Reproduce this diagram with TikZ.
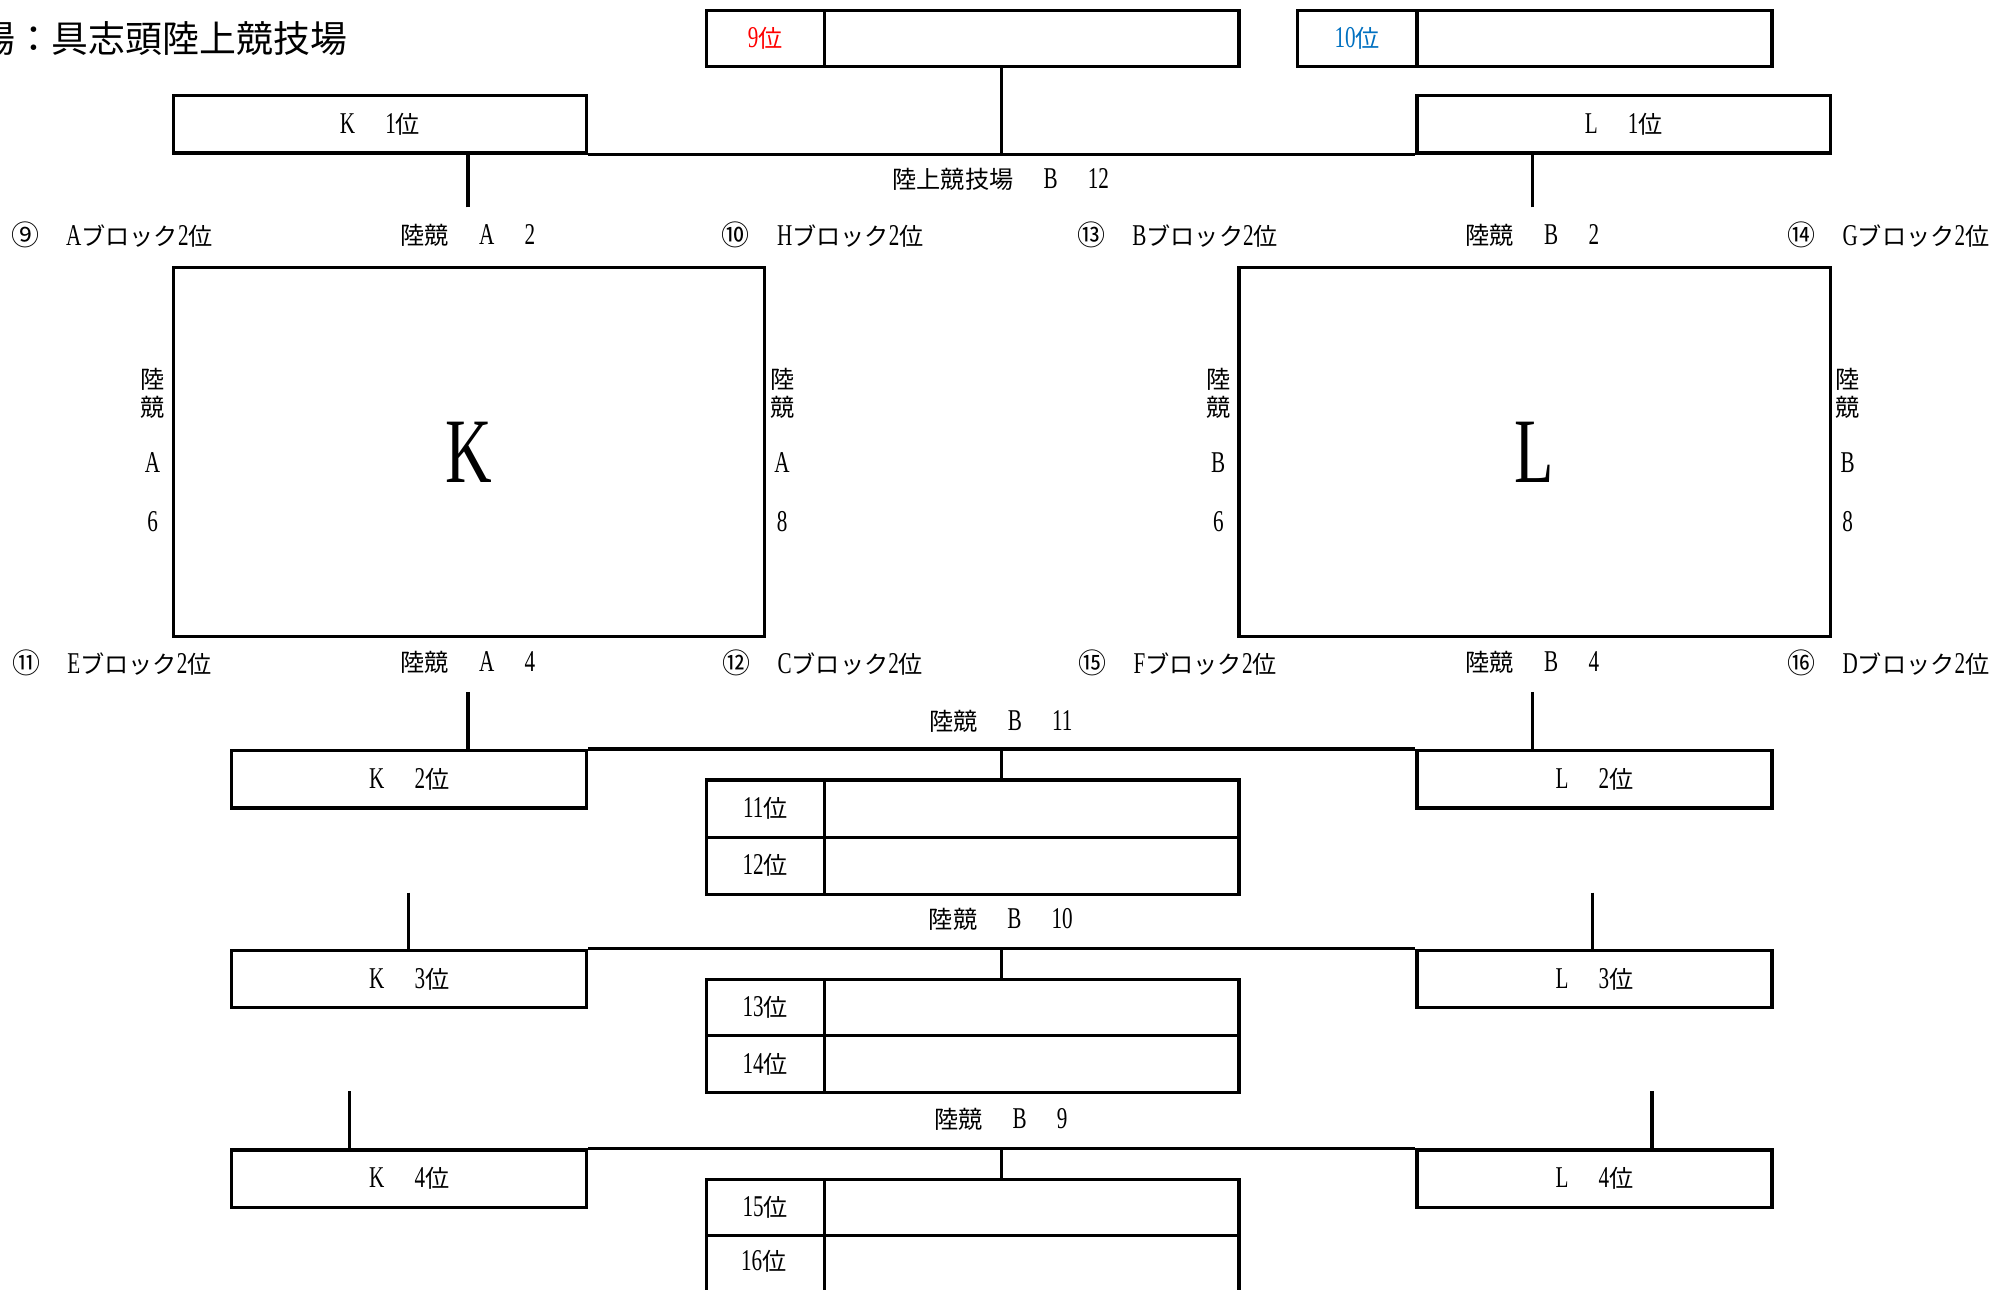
\documentclass[tikz,border=0pt]{standalone}
\usepackage{fontspec}
\setmainfont[FakeStretch=0.7,Scale=1.25]{Liberation Serif}
\newfontfamily\cjk{Noto Sans CJK JP}
\newcommand\J[1]{{\cjk #1}}
\newcommand\pl[1]{#1\J{位}}
\newcommand\rk[2]{#1\hspace{1em}#2\J{位}}
\newcommand\rkk[2]{\J{陸競}\hspace{1em}#1\hspace{1em}#2}
\newcommand\blocklab[2]{{\cjk\fontsize{22}{22}\selectfont #1}\hspace{0.9em}#2\J{ブロック}2\J{位}}
\definecolor{rred}{RGB}{255,0,0}
\definecolor{rblue}{RGB}{0,112,192}
\begin{document}
\begin{tikzpicture}[x=1pt,y=-1pt,
  cell/.style={draw,line width=2.6pt,inner sep=0pt,anchor=north west,font=\fontsize{19}{19}\selectfont},
  lab/.style={inner sep=0pt,font=\fontsize{19}{19}\selectfont},
  conn/.style={line width=2.6pt}]
\useasboundingbox (0,0) rectangle (1568,1014);

% title
\node[lab,anchor=east,font=\cjk\fontsize{29}{29}\selectfont] (title) at (273,30) {場：具志頭陸上競技場};

% top rank boxes
\node[cell,minimum width=93pt,minimum height=44pt,text=rred] (r9l) at (554,7) {\pl{9}};
\node[cell,minimum width=326pt,minimum height=44pt] (r9v) at (647,7) {};
\node[cell,minimum width=94pt,minimum height=44pt,text=rblue] (r10l) at (1019,7) {\pl{10}};
\node[cell,minimum width=279pt,minimum height=44pt] (r10v) at (1113,7) {};

% 1st place boxes
\node[cell,minimum width=325pt,minimum height=45pt] (k1) at (135,74) {\rk{K}{1}};
\node[cell,minimum width=325pt,minimum height=45pt] (l1) at (1113,74) {\rk{L}{1}};
\draw[conn] (k1.south east) -- coordinate (m1) (l1.south west);
\draw[conn] (m1) -- (m1 |- r9v.south);
\node[lab] (g12) at (787,141) {\J{陸上競技場}\hspace{1em}B\hspace{1em}12};
\coordinate (ka2) at (368,163);
\coordinate (lb2) at (1205,163);
\draw[conn] (ka2) -- (ka2 |- k1.south);
\draw[conn] (lb2) -- (lb2 |- l1.south);

% row labels top
\node[lab] (t9) at (88,185) {\blocklab{⑨}{A}};
\node[lab] (tka2) at (368,185) {\rkk{A}{2}};
\node[lab] (t10) at (647,185) {\blocklab{⑩}{H}};
\node[lab] (t13) at (926,185) {\blocklab{⑬}{B}};
\node[lab] (tlb2) at (1205,185) {\rkk{B}{2}};
\node[lab] (t14) at (1485,185) {\blocklab{⑭}{G}};

% big league boxes
\node[cell,minimum width=465pt,minimum height=290pt,font=\fontsize{58}{58}\selectfont] (kbig) at (135,209) {K};
\node[cell,minimum width=465pt,minimum height=290pt,font=\fontsize{58}{58}\selectfont] (lbig) at (973,209) {L};

% side vertical labels
\foreach \x/\a/\n/\nm in {120/A/6/ksl, 615/A/8/ksr, 958/B/6/lsl, 1453/B/8/lsr}{
  \node[lab] (\nm1) at (\x,298) {\J{陸}};
  \node[lab] (\nm2) at (\x,320) {\J{競}};
  \node[lab] (\nm3) at (\x,364) {\a};
  \node[lab] (\nm4) at (\x,410) {\n};
}

% row labels bottom
\node[lab] (t11) at (88,521) {\blocklab{⑪}{E}};
\node[lab] (tka4) at (368,521) {\rkk{A}{4}};
\node[lab] (t12) at (647,521) {\blocklab{⑫}{C}};
\node[lab] (t15) at (926,521) {\blocklab{⑮}{F}};
\node[lab] (tlb4) at (1205,521) {\rkk{B}{4}};
\node[lab] (t16) at (1485,521) {\blocklab{⑯}{D}};

% 2nd place
\node[cell,minimum width=279pt,minimum height=45pt] (k2) at (181,589) {\rk{K}{2}};
\node[cell,minimum width=279pt,minimum height=45pt] (l2) at (1113,589) {\rk{L}{2}};
\node[cell,minimum width=93pt,minimum height=45pt] (r11l) at (554,612) {\pl{11}};
\node[cell,minimum width=326pt,minimum height=45pt] (r11v) at (647,612) {};
\node[cell,minimum width=93pt,minimum height=45pt] (r12l) at (554,657) {\pl{12}};
\node[cell,minimum width=326pt,minimum height=45pt] (r12v) at (647,657) {};
\draw[conn] (k2.north east) -- coordinate (m2) (l2.north west);
\draw[conn] (m2) -- (m2 |- r11v.north);
\node[lab] (g11) at (787,567) {\rkk{B}{11}};
\coordinate (ka4) at (368,544);
\coordinate (lb4) at (1205,544);
\draw[conn] (ka4) -- (ka4 |- k2.north);
\draw[conn] (lb4) -- (lb4 |- l2.north);

% 3rd place
\node[cell,minimum width=279pt,minimum height=45pt] (k3) at (181,746) {\rk{K}{3}};
\node[cell,minimum width=279pt,minimum height=45pt] (l3) at (1113,746) {\rk{L}{3}};
\node[cell,minimum width=93pt,minimum height=44pt] (r13l) at (554,769) {\pl{13}};
\node[cell,minimum width=326pt,minimum height=44pt] (r13v) at (647,769) {};
\node[cell,minimum width=93pt,minimum height=45pt] (r14l) at (554,813) {\pl{14}};
\node[cell,minimum width=326pt,minimum height=45pt] (r14v) at (647,813) {};
\draw[conn] (k3.north east) -- coordinate (m3) (l3.north west);
\draw[conn] (m3) -- (m3 |- r13v.north);
\node[lab] (g10) at (787,723) {\rkk{B}{10}};
\coordinate (k3t) at (321,702);
\coordinate (l3t) at (1252,702);
\draw[conn] (k3t) -- (k3t |- k3.north);
\draw[conn] (l3t) -- (l3t |- l3.north);

% 4th place
\node[cell,minimum width=279pt,minimum height=45pt] (k4) at (181,903) {\rk{K}{4}};
\node[cell,minimum width=279pt,minimum height=45pt] (l4) at (1113,903) {\rk{L}{4}};
\node[cell,minimum width=93pt,minimum height=44pt] (r15l) at (554,926) {\pl{15}};
\node[cell,minimum width=326pt,minimum height=44pt] (r15v) at (647,926) {};
\node[cell,minimum width=93pt,minimum height=50pt,text depth=0pt] (r16l) at (554,970) {};
\node[lab] (r16t) at (600.5,992) {\pl{16}};
\node[cell,minimum width=326pt,minimum height=50pt] (r16v) at (647,970) {};
\draw[conn] (k4.north east) -- coordinate (m4) (l4.north west);
\draw[conn] (m4) -- (m4 |- r15v.north);
\node[lab] (g9) at (787,880) {\rkk{B}{9}};
\coordinate (k4t) at (275,858);
\coordinate (l4t) at (1299,858);
\draw[conn] (k4t) -- (k4t |- k4.north);
\draw[conn] (l4t) -- (l4t |- l4.north);
\end{tikzpicture}
\end{document}
